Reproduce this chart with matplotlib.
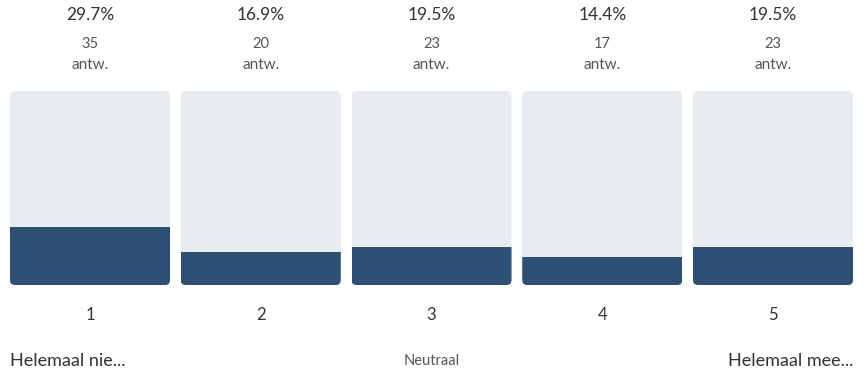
import matplotlib
matplotlib.use("Agg")
import matplotlib.pyplot as plt
from matplotlib.patches import FancyBboxPatch

plt.rcParams['font.family'] = ['Lato', 'DejaVu Sans']

categories = ["1", "2", "3", "4", "5"]
percentages = [29.7, 16.9, 19.5, 14.4, 19.5]
counts = [35, 20, 23, 17, 23]
scale_labels = ["Helemaal nie...", "Neutraal", "Helemaal mee..."]

W, H = 868, 376
fig = plt.figure(figsize=(W / 100, H / 100), dpi=100)

bg_col = "#e8ebf0"
bar_col = "#2c5175"
txt_col = "#333333"
sub_col = "#555555"

pitch = 170.75
box_w, box_top, box_bot = 160, 91, 285

for i, (cat, pct, n) in enumerate(zip(categories, percentages, counts)):
    left = 10 + i * pitch
    ax = fig.add_axes([left / W, 1 - box_bot / H, box_w / W, (box_bot - box_top) / H])
    ax.set_xlim(-0.5, 0.5)
    ax.set_ylim(0, 100)
    ax.axis("off")
    bg = FancyBboxPatch((0, 0), 1, 1, boxstyle="round,pad=0,rounding_size=0.031",
                        mutation_aspect=box_w / (box_bot - box_top),
                        transform=ax.transAxes, facecolor=bg_col, edgecolor="none")
    ax.add_patch(bg)
    bars = ax.bar([0], [pct], width=1.0, color=bar_col, zorder=2)
    for b in bars:
        b.set_clip_path(bg)

    cx = (left + box_w / 2) / W
    fig.text(cx, 1 - 15 / H, f"{pct}%", ha="center", va="center", fontsize=12.5, color=txt_col)
    fig.text(cx, 1 - 44 / H, str(n), ha="center", va="center", fontsize=10.5, color=sub_col)
    fig.text(cx, 1 - 65 / H, "antw.", ha="center", va="center", fontsize=11, color=sub_col)
    fig.text(cx, 1 - 315 / H, cat, ha="center", va="center", fontsize=12, color=txt_col)

fig.text(10 / W, 1 - 361 / H, scale_labels[0], ha="left", va="center", fontsize=13, color=txt_col)
fig.text((10 + 2 * pitch + box_w / 2) / W, 1 - 361 / H, scale_labels[1], ha="center", va="center",
         fontsize=10.5, color=sub_col)
fig.text(853 / W, 1 - 361 / H, scale_labels[2], ha="right", va="center", fontsize=13, color=txt_col)

fig.savefig("out.png", dpi=100, facecolor="white")
